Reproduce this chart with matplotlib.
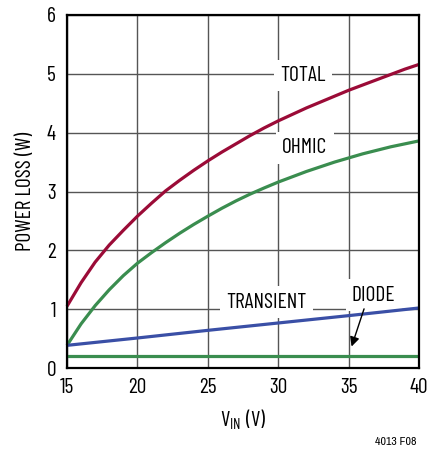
import matplotlib
matplotlib.use("Agg")
import matplotlib.pyplot as plt

plt.rcParams['font.family'] = ['Barlow Condensed', 'Archivo Narrow', 'Liberation Sans', 'DejaVu Sans']

# Data
vin = [15, 16, 17, 18, 19, 20, 21, 22, 23, 24, 25, 26, 27, 28, 29, 30,
       31, 32, 33, 34, 35, 36, 37, 38, 39, 40]
total = [1.05, 1.45, 1.80, 2.09, 2.34, 2.58, 2.80, 3.01, 3.19, 3.36, 3.52, 3.67, 3.81,
         3.95, 4.08, 4.20, 4.31, 4.42, 4.52, 4.62, 4.72, 4.81, 4.90, 4.99, 5.08, 5.16]
ohmic = [0.385, 0.75, 1.06, 1.33, 1.57, 1.78, 1.96, 2.13, 2.29, 2.44, 2.58, 2.715, 2.84,
         2.955, 3.06, 3.16, 3.25, 3.34, 3.42, 3.50, 3.57, 3.64, 3.70, 3.76, 3.81, 3.86]
vin_t = [15, 20, 25, 30, 35, 40]
transient = [0.385, 0.51, 0.64, 0.765, 0.89, 1.02]
vin_d = [15, 40]
diode = [0.21, 0.21]

xticks = [15, 20, 25, 30, 35, 40]
yticks = [0, 1, 2, 3, 4, 5, 6]

RED = "#9b0b37"
GREEN = "#3a8d4f"
BLUE = "#3a4fa6"

fig = plt.figure(figsize=(4.31, 4.49), dpi=100)
ax = fig.add_axes([67/431, 81/449, 352/431, 353/449])

ax.set_xlim(15, 40)
ax.set_ylim(0, 6)
ax.set_xticks(xticks)
ax.set_yticks(yticks)
ax.tick_params(length=0, labelsize=15.5)
ax.tick_params(axis='y', pad=8)
ax.tick_params(axis='x', pad=7)
ax.grid(True, color="#555555", linewidth=1.0)
ax.set_axisbelow(True)
for s in ax.spines.values():
    s.set_linewidth(1.6)
    s.set_color("black")
    s.set_zorder(5)

kw = dict(lw=2.3, zorder=3, clip_on=False, solid_capstyle='butt', solid_joinstyle='round')
ax.plot(vin, total, color=RED, **kw)
ax.plot(vin, ohmic, color=GREEN, **kw)
ax.plot(vin_t, transient, color=BLUE, **kw)
ax.plot(vin_d, diode, color=GREEN, **kw)

bbox = dict(facecolor="white", edgecolor="none", pad=4.5)
ax.text(31.76, 4.97, "TOTAL", fontsize=15.5, ha="center", va="center", bbox=bbox, zorder=2)
ax.text(31.9, 3.74, "OHMIC", fontsize=15.5, ha="center", va="center", bbox=bbox, zorder=2)
ax.text(29.15, 1.12, "TRANSIENT", fontsize=15.5, ha="center", va="center", bbox=bbox, zorder=2)
ax.text(36.77, 1.24, "DIODE", fontsize=15.5, ha="center", va="center", bbox=bbox, zorder=2)
ax.annotate("", xy=(35.15, 0.32), xytext=(36.16, 1.05),
            arrowprops=dict(arrowstyle="-|>", color="black", lw=1.0, mutation_scale=14),
            zorder=4)

ax.set_ylabel("POWER LOSS (W)", fontsize=15.5, labelpad=8)
ax.set_xlabel("V$_{\\mathregular{IN}}$ (V)", fontsize=15.5, labelpad=8)

fig.text(417/431, 1 - 442/449, "4013 F08", fontsize=8.5, ha="right", va="center",
         family=['Archivo Narrow', 'Liberation Sans', 'DejaVu Sans'])

fig.savefig("out.png", dpi=100)
